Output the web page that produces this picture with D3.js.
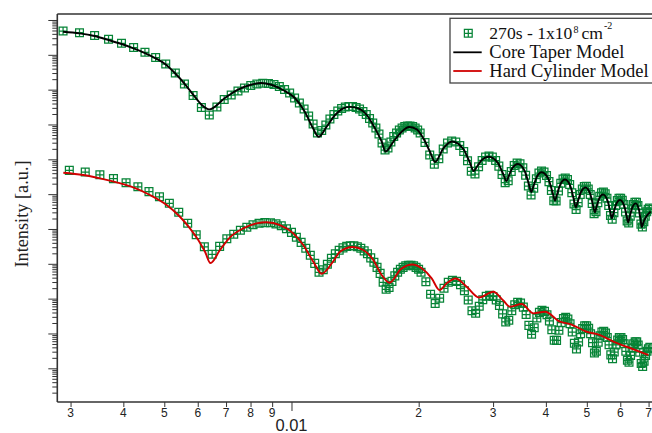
<!DOCTYPE html>
<html><head><meta charset="utf-8">
<script src="https://cdn.jsdelivr.net/npm/d3@7"></script>
<style>body{margin:0;background:#fff}svg{display:block}</style>
</head><body>
<svg id="chart" width="652" height="433"></svg>
<script>
// ---------- DATA (q in 1/Å, intensity as log10 of a.u.) ----------
const dataQ = [
0.00288,0.00315,0.00342,0.00369,0.00396,0.00423,0.00450,0.00477,0.00504,0.00531,
0.00558,0.00585,0.00612,0.00639,0.00666,0.00693,0.00720,0.00747,0.00774,0.00801,
0.00828,0.00855,0.00882,0.00909,0.00936,0.00963,0.00990,0.01017,0.01044,0.01071,
0.01098,0.01125,0.01152,0.01179,0.01206,0.01233,0.01260,0.01287,0.01314,0.01341,
0.01368,0.01395,0.01422,0.01449,0.01476,0.01503,0.01530,0.01557,0.01584,0.01611,
0.01638,0.01665,0.01692,0.01719,0.01746,0.01773,0.01800,0.01827,0.01854,0.01881,
0.01908,0.01935,0.01962,0.01989,0.02016,
0.02070,0.02124,0.02178,0.02232,0.02286,0.02340,0.02394,0.02448,0.02502,0.02556,
0.02610,0.02664,0.02718,0.02772,0.02826,0.02880,0.02934,0.02988,0.03042,0.03096,
0.03150,0.03204,0.03258,0.03312,0.03366,0.03420,0.03474,0.03528,0.03582,0.03636,
0.03690,0.03744,0.03798,0.03852,0.03906,0.03960,0.04014,0.04068,0.04122,0.04176,
0.04230,0.04284,0.04338,0.04392,0.04446,0.04500,0.04554,0.04608,0.04662,0.04716,
0.04770,0.04824,0.04878,0.04932,0.04986,0.05040,0.05094,0.05148,0.05202,0.05256,
0.05310,0.05364,0.05418,0.05472,0.05526,0.05580,0.05634,0.05688,0.05742,0.05796,
0.05850,0.05904,0.05958,0.06012,0.06066,0.06120,0.06174,0.06228,0.06282,0.06336,
0.06390,0.06444,0.06498,0.06552,0.06606,0.06660,0.06714,0.06768,0.06822,0.06876,
0.06930,0.06984,0.07038];
const dataLogI = [
10.683,10.635,10.554,10.445,10.330,10.210,10.072,9.923,9.736,9.478,
9.162,8.832,8.487,8.272,8.501,8.717,8.846,8.961,9.047,9.119,
9.162,9.182,9.176,9.147,9.090,9.004,8.903,8.760,8.616,8.444,
8.243,8.013,7.755,7.827,7.985,8.157,8.286,8.387,8.458,8.501,
8.516,8.516,8.487,8.444,8.372,8.286,8.171,8.042,7.898,7.726,
7.468,7.267,7.324,7.496,7.654,7.755,7.841,7.898,7.942,7.956,
7.956,7.942,7.898,7.841,7.755,
7.485,7.126,6.859,7.014,7.298,7.468,7.525,7.496,7.399,7.224,
6.960,6.655,6.578,6.784,6.968,7.066,7.094,7.063,6.965,6.805,
6.563,6.331,6.382,6.652,6.825,6.894,6.871,6.756,6.543,6.233,
5.975,6.167,6.443,6.606,6.664,6.635,6.535,6.360,6.104,5.808,
5.802,6.090,6.311,6.431,6.463,6.417,6.279,6.041,5.719,5.558,
5.757,5.992,6.144,6.222,6.224,6.150,5.992,5.734,5.441,5.492,
5.751,5.937,6.038,6.061,6.012,5.883,5.676,5.386,5.277,5.467,
5.673,5.814,5.880,5.883,5.826,5.702,5.487,5.231,5.174,5.369,
5.573,5.702,5.765,5.765,5.670,5.461,5.139,5.056,5.205,5.366,
5.492,5.564,5.601];
// the lower copy of the same measurement: shifted down 4 decades and by 0.0001 in q
const lowerCopyDecades = 4;
const lowerCopyQShift = 0.0001;

const coreTaperQ = [
0.00288,0.00315,0.00342,0.00369,0.00396,0.00423,0.0045,0.00477,0.00504,0.00531,
0.00558,0.00585,0.00612,0.00639,0.00696,0.00743,0.00798,0.00847,0.00899,0.00955,
0.01019,0.01076,0.01124,0.01159,0.01211,0.01268,0.01326,0.01375,0.01439,0.01507,
0.01576,0.01635,0.0167,0.01742,0.01823,0.01897,0.01979,0.02051,0.02127,0.02186,
0.02288,0.02399,0.0255,0.02641,0.02701,0.02747,0.02816,0.02931,0.03079,0.03168,
0.03227,0.03268,0.0333,0.03433,0.03564,0.03643,0.03695,0.03738,0.03804,0.03912,
0.04059,0.04146,0.04205,0.04252,0.04323,0.0444,0.04575,0.04655,0.04709,0.0476,
0.04837,0.04964,0.05093,0.0517,0.05222,0.0527,0.05342,0.05462,0.05597,0.05677,
0.05731,0.05783,0.05861,0.0599,0.06127,0.06209,0.06264,0.06317,0.06397,0.0653,
0.06639,0.06704,0.06747,0.0681,0.06904,0.0708];
const coreTaperLogI = [
10.663,10.617,10.540,10.425,10.310,10.187,10.052,9.900,9.722,9.463,
9.176,8.860,8.573,8.435,8.760,8.989,9.133,9.190,9.133,8.989,
8.760,8.358,7.898,7.646,7.936,8.272,8.464,8.507,8.464,8.272,
7.890,7.505,7.224,7.505,7.792,7.927,7.861,7.603,7.218,6.922,
7.316,7.511,7.298,6.917,6.664,6.787,6.968,7.072,6.896,6.586,
6.377,6.523,6.741,6.865,6.664,6.302,6.061,6.230,6.486,6.627,
6.423,6.061,5.817,5.998,6.268,6.420,6.219,5.860,5.622,5.791,
6.047,6.190,6.012,5.691,5.478,5.630,5.860,5.989,5.817,5.510,
5.306,5.464,5.699,5.831,5.670,5.383,5.191,5.355,5.599,5.736,
5.567,5.260,5.056,5.200,5.343,5.501];

const hardCylQ = [
0.002884,0.003215,0.003521,0.003858,0.004222,0.004625,0.005065,0.005445,0.005751,0.006017,
0.006242,0.006431,0.006773,0.007152,0.00769,0.008271,0.008736,0.009393,0.010099,0.010664,
0.011262,0.01179,0.012537,0.013025,0.013944,0.014786,0.015615,0.016348,0.01706,0.018162,
0.019338,0.020333,0.021468,0.022403,0.023297,0.024443,0.025979,0.027786,0.030037,0.03172,
0.032903,0.035059,0.037358,0.03981,0.0432,0.045625,0.049965,0.053728,0.057784,0.062145,
0.069914];
const hardCylLogI = [
6.615,6.549,6.454,6.339,6.196,5.975,5.688,5.352,5.019,4.683,
4.347,4.022,4.396,4.760,5.019,5.162,5.191,5.113,4.875,4.539,
4.060,3.715,4.060,4.347,4.482,4.396,4.109,3.678,3.457,3.850,
3.979,3.870,3.583,3.247,3.440,3.577,3.342,3.032,3.198,2.946,
2.768,2.845,2.578,2.624,2.337,2.271,2.050,1.955,1.763,1.619,
1.381];

const xTickValues = [0.003,0.004,0.005,0.006,0.007,0.008,0.009,0.01,0.02,0.03,0.04,0.05,0.06,0.07];
const xTickLabels = ["3","4","5","6","7","8","9","0.01","2","3","4","5","6","7"];
const legendLabels = ["Core Taper Model","Hard Cylinder Model"];

// ---------- LAYOUT ----------
const W = 652, H = 433;
const P = {left: 57.3, right: 660, top: 14, bottom: 402};
const GREEN = "#078437", RED = "#d10000", AXIS = "#333";
const SERIF = "'Liberation Serif','Times New Roman',serif";
const SANS = "'Liberation Sans',Arial,Helvetica,sans-serif";

const x = d3.scaleLog().domain([0.002791, 0.0745]).range([P.left, P.right]);
const y = d3.scaleLog().domain([Math.pow(10, 0.0325), Math.pow(10, 11.172)]).range([P.bottom, P.top]);

const svg = d3.select("#chart");
svg.append("rect").attr("width", W).attr("height", H).attr("fill", "#fff");

svg.append("clipPath").attr("id", "clip").append("rect")
  .attr("x", P.left).attr("y", P.top).attr("width", W - P.left).attr("height", P.bottom - P.top);

const upper = dataQ.map((q, i) => ({q: q, v: Math.pow(10, dataLogI[i])}));
const lower = dataQ.map((q, i) => ({q: q + lowerCopyQShift, v: Math.pow(10, dataLogI[i] - lowerCopyDecades)}));
const coreTaper = coreTaperQ.map((q, i) => ({q: q, v: Math.pow(10, coreTaperLogI[i])}));
const hardCyl = hardCylQ.map((q, i) => ({q: q, v: Math.pow(10, hardCylLogI[i])}));

const h = 3.9;
const markerPath = `M${-h},${-h}H${h}V${h}H${-h}Z M0,${-h}V${h} M${-h},0H${h}`;

const plotG = svg.append("g").attr("clip-path", "url(#clip)");

function drawMarkers(data) {
  plotG.append("g").selectAll("path").data(data).join("path")
    .attr("d", markerPath)
    .attr("transform", d => `translate(${x(d.q)},${y(d.v)})`)
    .attr("fill", "none").attr("stroke", GREEN).attr("stroke-width", 1.25);
}
drawMarkers(upper);
drawMarkers(lower);

const line = d3.line().x(d => x(d.q)).y(d => y(d.v)).curve(d3.curveMonotoneX);
plotG.append("path").datum(coreTaper).attr("d", line)
  .attr("fill", "none").attr("stroke", "#000").attr("stroke-width", 1.9);
plotG.append("path").datum(hardCyl).attr("d", line)
  .attr("fill", "none").attr("stroke", RED).attr("stroke-width", 1.9);

// ---------- AXES ----------
const yMajor = [], yMinor = [];
for (let k = 0; k <= 11; k++) {
  const base = Math.pow(10, k);
  const lo = y.domain()[0], hi = y.domain()[1];
  if (base >= lo && base <= hi) yMajor.push(base);
  for (let m = 2; m <= 9; m++) { const v = m * base; if (v >= lo && v <= hi) yMinor.push(v); }
}
function styleAxis(g) {
  g.select(".domain").remove();
  g.selectAll(".tick line").attr("stroke", AXIS).attr("stroke-width", 1);
}
svg.append("g").attr("transform", `translate(${P.left},0)`)
  .call(d3.axisLeft(y).tickValues(yMajor).tickSize(9).tickFormat("")).call(styleAxis);
svg.append("g").attr("transform", `translate(${P.left},0)`)
  .call(d3.axisLeft(y).tickValues(yMinor).tickSize(5).tickFormat("")).call(styleAxis);

const xMajorTicks = xTickValues.filter(v => v === 0.01);
const xMinorTicks = xTickValues.filter(v => v !== 0.01);
svg.append("g").attr("transform", `translate(0,${P.bottom})`)
  .call(d3.axisBottom(x).tickValues(xMinorTicks).tickSize(5).tickFormat("")).call(styleAxis);
svg.append("g").attr("transform", `translate(0,${P.bottom})`)
  .call(d3.axisBottom(x).tickValues(xMajorTicks).tickSize(9).tickFormat("")).call(styleAxis);

svg.append("g").selectAll("text").data(xTickValues).join("text")
  .attr("x", d => x(d))
  .attr("y", d => d === 0.01 ? 430.5 : 417.3)
  .attr("text-anchor", "middle")
  .attr("font-family", SANS)
  .attr("font-size", d => d === 0.01 ? 16.5 : 12)
  .attr("fill", "#222")
  .text((d, i) => xTickLabels[i]);

// frame
const frame = svg.append("g").attr("stroke", AXIS).attr("stroke-width", 1.6).attr("fill", "none");
frame.append("line").attr("x1", P.left).attr("x2", P.left).attr("y1", P.top).attr("y2", P.bottom);
frame.append("line").attr("x1", P.left).attr("x2", W).attr("y1", P.bottom).attr("y2", P.bottom);
frame.append("line").attr("x1", P.left).attr("x2", W).attr("y1", P.top).attr("y2", P.top);

// y label
svg.append("text").attr("transform", "translate(28,214) rotate(-90)")
  .attr("text-anchor", "middle").attr("font-family", SERIF).attr("font-size", 18.3)
  .attr("fill", "#222").text("Intensity [a.u.]");

// ---------- LEGEND ----------
const lg = svg.append("g");
lg.append("rect").attr("x", 450).attr("y", 18.3).attr("width", 220).attr("height", 64.7)
  .attr("fill", "#fff").attr("stroke", "#444").attr("stroke-width", 1.3);
lg.append("path").attr("d", markerPath).attr("transform", "translate(468.3,33.3)")
  .attr("fill", "none").attr("stroke", GREEN).attr("stroke-width", 1.25);
// one flowing text line with superscripts
const t1 = lg.append("text").attr("x", 489.3).attr("y", 39.3)
  .attr("font-family", SERIF).attr("font-size", 17.6).attr("fill", "#111");
t1.append("tspan").text("270s - 1x10");
t1.append("tspan").attr("dx", 1).attr("dy", -6).attr("font-size", 10).text("8");
t1.append("tspan").attr("dx", 3).attr("dy", 6).text("cm");
t1.append("tspan").attr("dx", 1).attr("dy", -10).attr("font-size", 10).text("-2");
[["#000", 52.3, 57.6], [RED, 71, 76.5]].forEach((r, i) => {
  lg.append("line").attr("x1", 453.3).attr("x2", 481.7).attr("y1", r[1]).attr("y2", r[1])
    .attr("stroke", r[0]).attr("stroke-width", 1.8);
  lg.append("text").attr("x", 489.3).attr("y", r[2]).attr("font-family", SERIF)
    .attr("font-size", 18.5).attr("fill", "#111").text(legendLabels[i]);
});
</script>
</body></html>
